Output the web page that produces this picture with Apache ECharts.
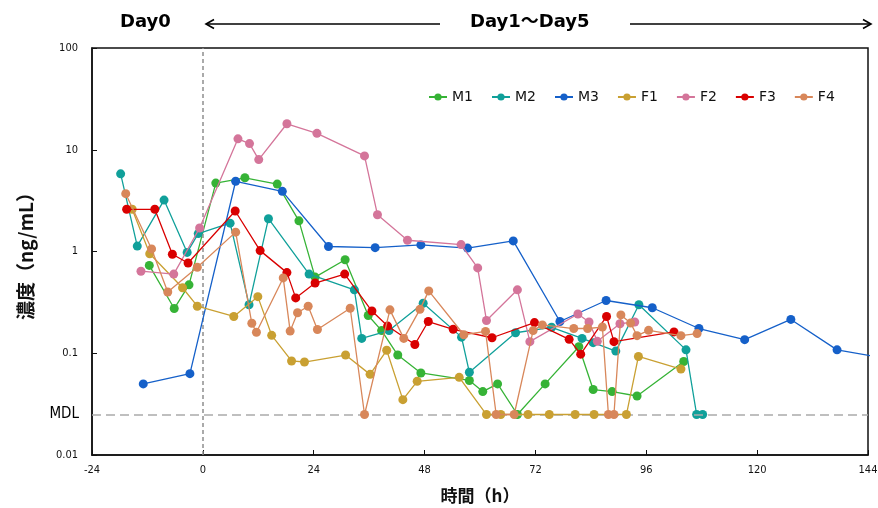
<!DOCTYPE html>
<html>
<head>
<meta charset="utf-8">
<script src="https://cdn.jsdelivr.net/npm/echarts@6/dist/echarts.min.js"></script>
<style>
  html, body { margin: 0; padding: 0; background: #fff; }
  #chart { width: 878px; height: 508px; }
</style>
</head>
<body>
<div id="chart"></div>
<script>
// Method detection limit (ng/mL); samples below it are plotted on this line
const MDL = 0.025;

// Time axis ticks (h)
const xTicks = [-24, 0, 24, 48, 72, 96, 120, 144];

// Concentration time courses: [time (h), concentration (ng/mL)]
const M1 = [[-11.6,0.73],[-6.2,0.275],[-3.0,0.47],[2.8,4.7],[9.1,5.3],[16.1,4.6],[20.8,2.0],[24.3,0.56],[30.8,0.83],[35.8,0.235],[38.7,0.167],[42.2,0.096],[47.2,0.064],[57.7,0.054],[60.6,0.042],[63.8,0.050],[68.1,MDL],[74.1,0.050],[81.4,0.116],[84.5,0.044],[88.6,0.042],[94.0,0.038],[104.1,0.083]];
const M2 = [[-17.8,5.8],[-14.2,1.13],[-8.4,3.2],[-3.4,0.98],[-1.0,1.5],[5.9,1.9],[10.0,0.30],[14.2,2.1],[23.0,0.60],[32.8,0.42],[34.4,0.14],[40.3,0.167],[47.7,0.31],[56.0,0.144],[57.7,0.065],[67.7,0.159],[75.5,0.18],[82.1,0.14],[84.5,0.127],[89.4,0.105],[94.4,0.30],[104.6,0.108],[106.9,MDL],[108.2,MDL]];
const M3 = [[-12.9,0.05],[-2.8,0.063],[7.1,4.9],[17.2,3.9],[27.2,1.12],[37.3,1.09],[47.2,1.16],[57.3,1.08],[67.2,1.27],[77.3,0.205],[87.3,0.33],[97.3,0.28],[107.4,0.175],[117.3,0.136],[127.3,0.215],[137.3,0.108],[147.3,0.09]];
const F1 = [[-15.3,2.6],[-11.5,0.95],[-4.4,0.44],[-1.2,0.29],[6.7,0.23],[11.9,0.36],[14.9,0.15],[19.2,0.084],[22.0,0.082],[30.9,0.096],[36.2,0.062],[39.8,0.107],[43.3,0.035],[46.4,0.053],[55.5,0.058],[61.4,MDL],[64.5,MDL],[70.4,MDL],[75.0,MDL],[80.6,MDL],[84.7,MDL],[91.7,MDL],[94.3,0.093],[103.5,0.070]];
const F2 = [[-13.4,0.64],[-6.3,0.60],[-0.7,1.7],[7.6,12.8],[10.1,11.5],[12.1,8.0],[18.2,18],[24.7,14.5],[35.0,8.7],[37.8,2.3],[44.3,1.29],[55.9,1.17],[59.5,0.69],[61.4,0.21],[68.1,0.42],[70.8,0.13],[81.2,0.243],[83.6,0.203],[85.4,0.131],[90.3,0.195],[93.5,0.203]];
const F3 = [[-16.5,2.6],[-10.4,2.6],[-6.6,0.94],[-3.2,0.77],[7.0,2.5],[12.4,1.02],[18.2,0.62],[20.1,0.35],[24.3,0.49],[30.7,0.60],[36.6,0.26],[40.0,0.185],[45.9,0.122],[48.8,0.205],[54.2,0.172],[62.6,0.142],[71.8,0.20],[79.3,0.137],[81.8,0.098],[87.4,0.23],[89.0,0.13],[102.0,0.162]];
const F4 = [[-16.7,3.7],[-11.1,1.06],[-7.6,0.40],[-1.2,0.70],[7.1,1.55],[10.6,0.197],[11.6,0.161],[17.4,0.55],[18.9,0.165],[20.5,0.25],[22.8,0.29],[24.8,0.171],[31.9,0.277],[35.0,MDL],[40.5,0.267],[43.5,0.14],[47.0,0.27],[48.9,0.41],[56.5,0.152],[61.2,0.164],[63.5,MDL],[67.4,MDL],[71.5,0.167],[73.5,0.19],[80.3,0.175],[83.3,0.175],[86.5,0.181],[87.8,MDL],[89.0,MDL],[90.5,0.238],[92.6,0.198],[94.0,0.149],[96.5,0.168],[103.5,0.149],[107.0,0.156]];

const seriesNames = ['M1', 'M2', 'M3', 'F1', 'F2', 'F3', 'F4'];
const seriesData = [M1, M2, M3, F1, F2, F3, F4];
const seriesColors = ['#36b336', '#10a09a', '#1560c9', '#c9a032', '#d4759a', '#d90000', '#d8875a'];

const tickFont = "'DejaVu Sans Condensed', 'DejaVu Sans', sans-serif";

const chart = echarts.init(document.getElementById('chart'), null, { renderer: 'canvas' });

const series = seriesNames.map((name, i) => ({
  name,
  type: 'line',
  data: seriesData[i],
  symbol: 'circle',
  symbolSize: 9,
  showSymbol: true,
  clip: true,
  itemStyle: { color: seriesColors[i] },
  lineStyle: { color: seriesColors[i], width: 1.3 },
  emphasis: { disabled: true },
  z: 3 + i
}));

// Reference lines: dosing time (t = 0) and detection limit
series[0].markLine = {
  silent: true,
  symbol: ['none', 'none'],
  animation: false,
  precision: 6,
  data: [
    {
      xAxis: 0,
      lineStyle: { color: '#8f8f8f', type: [4, 3], width: 1.5 },
      label: { show: false }
    },
    {
      yAxis: MDL,
      lineStyle: { color: '#ababab', type: [9, 5], width: 1.5 },
      label: {
        show: true,
        position: 'start',
        formatter: 'MDL',
        distance: 13,
        color: '#000',
        fontSize: 15,
        fontFamily: tickFont
      }
    }
  ]
};

const option = {
  animation: false,
  backgroundColor: '#fff',
  grid: {
    left: 92, right: 10, top: 48, bottom: 53,
    outerBoundsMode: 'none',
    containLabel: false,
    show: true, borderColor: '#111', borderWidth: 1.5, backgroundColor: 'transparent'
  },
  legend: {
    data: seriesNames,
    left: 423,
    top: 85,
    itemWidth: 18,
    itemHeight: 9,
    itemGap: 18,
    textStyle: { color: '#111', fontSize: 14, fontFamily: "'DejaVu Sans', sans-serif" }
  },
  xAxis: {
    type: 'value',
    min: xTicks[0],
    max: xTicks[xTicks.length - 1],
    interval: 24,
    name: '時間（h）',
    nameLocation: 'middle',
    nameGap: 32,
    nameTextStyle: { color: '#111', fontSize: 17, fontWeight: 'bold', fontFamily: "'Noto Sans CJK JP', sans-serif" },
    axisLine: { show: true, onZero: false, lineStyle: { color: '#111', width: 1.5 } },
    axisTick: { show: true, inside: true, length: 5, lineStyle: { color: '#111' } },
    axisLabel: { color: '#111', fontSize: 11, margin: 10, fontFamily: tickFont },
    splitLine: { show: false }
  },
  yAxis: {
    type: 'log',
    logBase: 10,
    min: 0.01,
    max: 100,
    name: '濃度（ng/mL）',
    nameLocation: 'middle',
    nameGap: 57,
    nameRotate: 90,
    nameTextStyle: { color: '#111', fontSize: 19, fontWeight: 'bold', fontFamily: "'Noto Sans CJK JP', sans-serif" },
    axisLine: { show: true, onZero: false, lineStyle: { color: '#111', width: 1.5 } },
    axisTick: { show: true, inside: true, length: 5, lineStyle: { color: '#111' } },
    axisLabel: {
      color: '#111', fontSize: 11, margin: 14, fontFamily: tickFont,
      formatter: v => String(+v.toPrecision(3))
    },
    splitLine: { show: false }
  },
  graphic: [
    {
      type: 'text', left: 120, top: 13,
      style: { text: 'Day0', fill: '#000', font: "bold 18px 'DejaVu Sans', 'Noto Sans CJK JP', sans-serif" }
    },
    {
      type: 'text', left: 470, top: 13,
      style: { text: 'Day1～Day5', fill: '#000', font: "bold 18px 'DejaVu Sans', 'Noto Sans CJK JP', sans-serif" }
    },
    {
      type: 'polyline',
      shape: { points: [[440, 24], [206, 24]] },
      style: { stroke: '#000', lineWidth: 1.6, fill: null }
    },
    {
      type: 'polyline',
      shape: { points: [[214, 19.5], [206, 24], [214, 28.5]] },
      style: { stroke: '#000', lineWidth: 1.6, fill: null }
    },
    {
      type: 'polyline',
      shape: { points: [[630, 24], [871, 24]] },
      style: { stroke: '#000', lineWidth: 1.6, fill: null }
    },
    {
      type: 'polyline',
      shape: { points: [[863, 19.5], [871, 24], [863, 28.5]] },
      style: { stroke: '#000', lineWidth: 1.6, fill: null }
    }
  ],
  series
};

chart.setOption(option);
</script>
</body>
</html>
